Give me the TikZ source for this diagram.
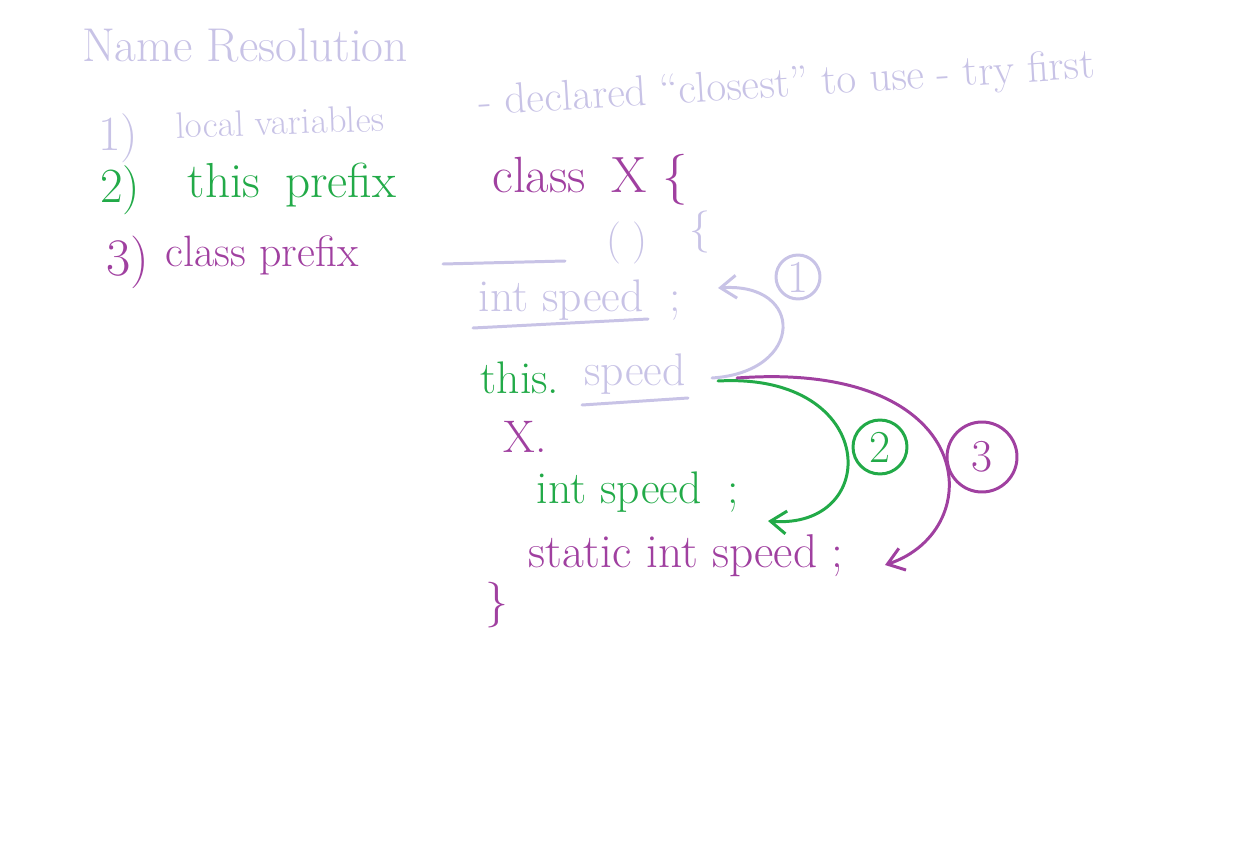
\documentclass[tikz,border=0pt]{standalone}
\usetikzlibrary{arrows.meta}
\definecolor{lav}{RGB}{200,195,230}
\definecolor{grn}{RGB}{34,170,72}
\definecolor{pur}{RGB}{160,64,160}
\tikzset{
  ink/.style={line width=1.7pt, line cap=round, line join=round},
  txt/.style={inner sep=0pt, anchor=center},
  numcirc/.style={circle, draw, ink, inner sep=0pt, font=\fontsize{26}{28}\selectfont},
  barb/.style={-{Straight Barb[length=9pt,width=13pt,line width=1.7pt]}}
}
\begin{document}
\begin{tikzpicture}[x=0.02cm,y=-0.02cm]
\useasboundingbox (0,0) rectangle (1254,841);
% title
\node[txt, lav, font=\fontsize{27}{30}\selectfont] (title) at (245,45) {Name Resolution};
% rule list
\node[txt, lav, font=\fontsize{28}{32}\selectfont] (n1) at (118,138) {1)};
\node[txt, lav, rotate=2, font=\fontsize{21}{24}\selectfont] (r1a) at (280,122) {local variables};
\node[txt, lav, rotate=3.5, font=\fontsize{24.5}{28}\selectfont] (r1b) at (787,86) {- declared ``closest'' to use - try first};
\node[txt, grn, font=\fontsize{28}{32}\selectfont] (n2) at (120,190) {2)};
\node[txt, grn, font=\fontsize{28}{32}\selectfont] (r2) at (292,185) {this\enspace prefix};
\node[txt, pur, font=\fontsize{30}{34}\selectfont] (n3) at (128,262) {3)};
\node[txt, pur, font=\fontsize{25}{29}\selectfont] (r3) at (262,255) {class prefix};
% code
\node[txt, pur, font=\fontsize{29}{33}\selectfont] (cls) at (590,180) {class\enspace X \{};
\draw[lav, ink] (443,264) -- (565,261);
\node[txt, lav, font=\fontsize{24}{28}\selectfont] (paren) at (627,243) {(\;)};
\node[txt, lav, font=\fontsize{24}{28}\selectfont] (brace) at (700,232) {\{};
\node[txt, lav, font=\fontsize{26}{30}\selectfont] (ispeed) at (580,300) {int speed\; ;};
\draw[lav, ink] (473,328) -- (648,319);
\node[txt, grn, font=\fontsize{26}{30}\selectfont] (this) at (520,378) {this.};
\node[txt, lav, font=\fontsize{26}{30}\selectfont] (speed) at (635,374) {speed};
\draw[lav, ink] (582,405) -- (688,398);
\node[txt, pur, font=\fontsize{26}{30}\selectfont] (xdot) at (525,437) {X.};
\node[txt, grn, font=\fontsize{26}{30}\selectfont] (gspeed) at (638,492) {int speed\; ;};
\node[txt, pur, font=\fontsize{27}{31}\selectfont] (sspeed) at (686,556) {static int speed ;};
\node[txt, pur, font=\fontsize{26}{30}\selectfont] (close) at (497,605) {\}};
% circled numbers
\node[numcirc, lav, minimum size=0.88cm] (c1) at (798,277) {1};
\node[numcirc, grn, minimum size=1.08cm] (c2) at (880,447) {2};
\node[numcirc, pur, minimum size=1.40cm] (c3) at (982,457) {3};
% arrows
\coordinate (a1s) at (712,378);
\coordinate (a1e) at (718,288);
\draw[lav, ink, barb] (a1s) .. controls (805,372) and (805,282) .. (a1e);
\coordinate (a2s) at (718,381);
\coordinate (a2e) at (768,521);
\draw[grn, ink, barb] (a2s) .. controls (880,372) and (882,530) .. (a2e);
\coordinate (a3s) at (737,378);
\coordinate (a3e) at (885,565);
\draw[pur, ink, barb] (a3s) .. controls (980,360) and (990,530) .. (a3e);
\end{tikzpicture}
\end{document}
